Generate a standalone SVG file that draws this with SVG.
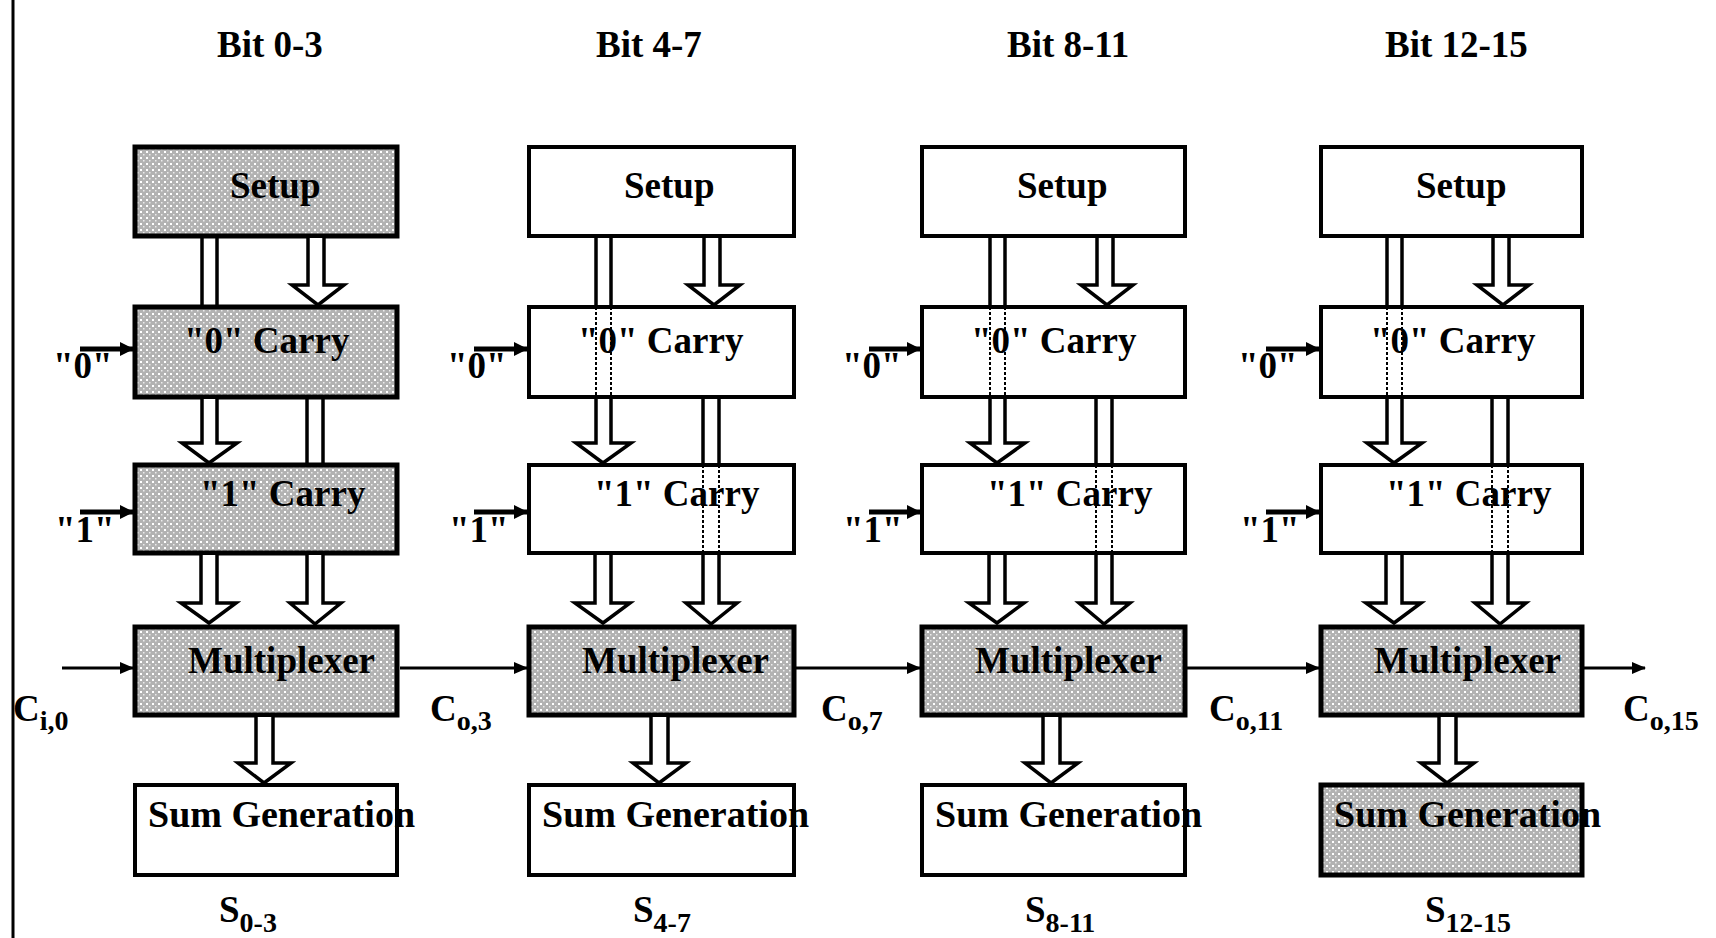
<svg xmlns="http://www.w3.org/2000/svg" width="1716" height="938" viewBox="0 0 1716 938">
<style>
text{font-family:"Liberation Serif","Times New Roman",serif;font-weight:bold;font-size:37px;fill:#000}
.sub{font-size:28px}
.sg{font-size:38px}
.box{stroke:#000;stroke-width:4;fill:#fff}
.sh{fill:url(#dots);stroke-width:5}
.blk{fill:#fff;stroke:#000;stroke-width:3.5;stroke-linejoin:miter}
.ln{stroke:#000;stroke-width:3.5;fill:none}
.dsh{stroke:#000;stroke-width:2;stroke-dasharray:3 2;fill:none}
.car{stroke:#000;stroke-width:3;fill:none;marker-end:url(#ah)}
.inp{stroke:#000;stroke-width:5;fill:none;marker-end:url(#ah2)}
</style>
<defs>
<pattern id="dots" width="6" height="6" patternUnits="userSpaceOnUse">
<rect width="6" height="6" fill="#b2b2b2"/>
<rect x="1" y="1" width="2" height="2" fill="#fff"/>
<rect x="4" y="4" width="1.5" height="1.5" fill="#ececec"/>
</pattern>
<marker id="ah" markerUnits="userSpaceOnUse" markerWidth="14" markerHeight="12" refX="13" refY="6" orient="auto">
<path d="M0,0 L14,6 L0,12 Z" fill="#000"/>
</marker>
<marker id="ah2" markerUnits="userSpaceOnUse" markerWidth="14" markerHeight="14" refX="13" refY="7" orient="auto">
<path d="M0,0 L14,7 L0,14 Z" fill="#000"/>
</marker>
</defs>
<rect width="1716" height="938" fill="#fff"/>
<line x1="13" y1="0" x2="13" y2="938" stroke="#000" stroke-width="3"/>

<g id="titles">
<text x="217" y="57">Bit 0-3</text>
<text x="596" y="57">Bit 4-7</text>
<text x="1007" y="57">Bit 8-11</text>
<text x="1385" y="57">Bit 12-15</text>
</g>

<!-- Column 1 -->
<g id="setup-0" transform="translate(133,0)"><rect class="box sh" x="2" y="147" width="262" height="89"/><text x="97" y="198">Setup</text></g>
<g id="carry0-0" transform="translate(133,0)"><rect class="box sh" x="2" y="307" width="262" height="90"/><text x="51" y="353">"0" Carry</text></g>
<g id="carry1-0" transform="translate(133,0)"><rect class="box sh" x="2" y="465" width="262" height="88"/><text x="67" y="506">"1" Carry</text></g>
<g id="mux-0" transform="translate(133,0)"><rect class="box sh" x="2" y="627" width="262" height="88"/><text x="55" y="673">Multiplexer</text></g>
<g id="sum-0" transform="translate(133,0)"><rect class="box" x="2" y="785" width="262" height="90"/><text class="sg" x="15" y="827">Sum Generation</text></g>

<!-- Column 2 -->
<g id="setup-1" transform="translate(527,0)"><rect class="box" x="2" y="147" width="265" height="89"/><text x="97" y="198">Setup</text></g>
<g id="carry0-1" transform="translate(527,0)"><rect class="box" x="2" y="307" width="265" height="90"/><text x="51" y="353">"0" Carry</text></g>
<g id="carry1-1" transform="translate(527,0)"><rect class="box" x="2" y="465" width="265" height="88"/><text x="67" y="506">"1" Carry</text></g>
<g id="mux-1" transform="translate(527,0)"><rect class="box sh" x="2" y="627" width="265" height="88"/><text x="55" y="673">Multiplexer</text></g>
<g id="sum-1" transform="translate(527,0)"><rect class="box" x="2" y="785" width="265" height="90"/><text class="sg" x="15" y="827">Sum Generation</text></g>

<!-- Column 3 -->
<g id="setup-2" transform="translate(920,0)"><rect class="box" x="2" y="147" width="263" height="89"/><text x="97" y="198">Setup</text></g>
<g id="carry0-2" transform="translate(920,0)"><rect class="box" x="2" y="307" width="263" height="90"/><text x="51" y="353">"0" Carry</text></g>
<g id="carry1-2" transform="translate(920,0)"><rect class="box" x="2" y="465" width="263" height="88"/><text x="67" y="506">"1" Carry</text></g>
<g id="mux-2" transform="translate(920,0)"><rect class="box sh" x="2" y="627" width="263" height="88"/><text x="55" y="673">Multiplexer</text></g>
<g id="sum-2" transform="translate(920,0)"><rect class="box" x="2" y="785" width="263" height="90"/><text class="sg" x="15" y="827">Sum Generation</text></g>

<!-- Column 4 -->
<g id="setup-3" transform="translate(1319,0)"><rect class="box" x="2" y="147" width="261" height="89"/><text x="97" y="198">Setup</text></g>
<g id="carry0-3" transform="translate(1319,0)"><rect class="box" x="2" y="307" width="261" height="90"/><text x="51" y="353">"0" Carry</text></g>
<g id="carry1-3" transform="translate(1319,0)"><rect class="box" x="2" y="465" width="261" height="88"/><text x="67" y="506">"1" Carry</text></g>
<g id="mux-3" transform="translate(1319,0)"><rect class="box sh" x="2" y="627" width="261" height="88"/><text x="55" y="673">Multiplexer</text></g>
<g id="sum-3" transform="translate(1319,0)"><rect class="box sh" x="2" y="785" width="261" height="90"/><text class="sg" x="15" y="827">Sum Generation</text></g>

<g id="connectors">
<g id="conn-col0" transform="translate(133,0)">
<line class="ln" x1="69" y1="238" x2="69" y2="305"/><line class="ln" x1="84" y1="238" x2="84" y2="305"/>
<polyline class="blk" points="69,399 69,443 49,443 76,463 104,443 84,443 84,399"/>
<polyline class="blk" points="175,238 175,285 159,285 185,305 211,285 191,285 191,238"/>
<line class="ln" x1="174" y1="399" x2="174" y2="463"/><line class="ln" x1="190" y1="399" x2="190" y2="463"/>
<polyline class="blk" points="174,555 174,603 157,603 182,624 208,603 190,603 190,555"/>
<polyline class="blk" points="68,555 68,603 48,603 76,623 103,603 84,603 84,555"/>
<polyline class="blk" points="123,717 123,763 105,763 131,783 158,763 140,763 140,717"/>
</g>
<g id="conn-col1" transform="translate(527,0)">
<line class="ln" x1="69" y1="238" x2="69" y2="305"/><line class="ln" x1="84" y1="238" x2="84" y2="305"/>
<line class="dsh" x1="69" y1="307" x2="69" y2="397"/><line class="dsh" x1="84" y1="307" x2="84" y2="397"/>
<polyline class="blk" points="69,399 69,443 49,443 76,463 104,443 84,443 84,399"/>
<polyline class="blk" points="177,238 177,285 161,285 187,305 213,285 193,285 193,238"/>
<line class="ln" x1="176" y1="399" x2="176" y2="463"/><line class="ln" x1="192" y1="399" x2="192" y2="463"/>
<line class="dsh" x1="176" y1="465" x2="176" y2="553"/><line class="dsh" x1="192" y1="465" x2="192" y2="553"/>
<polyline class="blk" points="176,555 176,603 159,603 184,624 210,603 192,603 192,555"/>
<polyline class="blk" points="68,555 68,603 48,603 76,623 103,603 84,603 84,555"/>
<polyline class="blk" points="124,717 124,763 106,763 132,783 159,763 141,763 141,717"/>
</g>
<g id="conn-col2" transform="translate(920,0)">
<line class="ln" x1="70" y1="238" x2="70" y2="305"/><line class="ln" x1="85" y1="238" x2="85" y2="305"/>
<line class="dsh" x1="70" y1="307" x2="70" y2="397"/><line class="dsh" x1="85" y1="307" x2="85" y2="397"/>
<polyline class="blk" points="70,399 70,443 50,443 77,463 105,443 85,443 85,399"/>
<polyline class="blk" points="177,238 177,285 161,285 187,305 213,285 193,285 193,238"/>
<line class="ln" x1="176" y1="399" x2="176" y2="463"/><line class="ln" x1="192" y1="399" x2="192" y2="463"/>
<line class="dsh" x1="176" y1="465" x2="176" y2="553"/><line class="dsh" x1="192" y1="465" x2="192" y2="553"/>
<polyline class="blk" points="176,555 176,603 159,603 184,624 210,603 192,603 192,555"/>
<polyline class="blk" points="69,555 69,603 49,603 77,623 104,603 85,603 85,555"/>
<polyline class="blk" points="123,717 123,763 105,763 131,783 158,763 140,763 140,717"/>
</g>
<g id="conn-col3" transform="translate(1319,0)">
<line class="ln" x1="68" y1="238" x2="68" y2="305"/><line class="ln" x1="83" y1="238" x2="83" y2="305"/>
<line class="dsh" x1="68" y1="307" x2="68" y2="397"/><line class="dsh" x1="83" y1="307" x2="83" y2="397"/>
<polyline class="blk" points="68,399 68,443 48,443 75,463 103,443 83,443 83,399"/>
<polyline class="blk" points="174,238 174,285 158,285 184,305 210,285 190,285 190,238"/>
<line class="ln" x1="173" y1="399" x2="173" y2="463"/><line class="ln" x1="189" y1="399" x2="189" y2="463"/>
<line class="dsh" x1="173" y1="465" x2="173" y2="553"/><line class="dsh" x1="189" y1="465" x2="189" y2="553"/>
<polyline class="blk" points="173,555 173,603 156,603 181,624 207,603 189,603 189,555"/>
<polyline class="blk" points="67,555 67,603 47,603 75,623 102,603 83,603 83,555"/>
<polyline class="blk" points="120,717 120,763 102,763 128,783 155,763 137,763 137,717"/>
</g>
<!-- carry chain -->
<line class="car" x1="62" y1="668" x2="133" y2="668"/>
<line class="car" x1="400" y1="668" x2="527" y2="668"/>
<line class="car" x1="796" y1="668" x2="920" y2="668"/>
<line class="car" x1="1186" y1="668" x2="1319" y2="668"/>
<line class="car" x1="1583" y1="668" x2="1645" y2="668"/>
<!-- constant inputs -->
<line class="inp" x1="80" y1="349" x2="133" y2="349"/>
<line class="inp" x1="80" y1="512" x2="133" y2="512"/>
<line class="inp" x1="474" y1="349" x2="527" y2="349"/>
<line class="inp" x1="474" y1="512" x2="527" y2="512"/>
<line class="inp" x1="869" y1="349" x2="920" y2="349"/>
<line class="inp" x1="869" y1="512" x2="920" y2="512"/>
<line class="inp" x1="1266" y1="349" x2="1319" y2="349"/>
<line class="inp" x1="1266" y1="512" x2="1319" y2="512"/>
</g>

<g id="labels">
<text x="53" y="378">"0"</text>
<text x="55" y="542">"1"</text>
<text x="447" y="378">"0"</text>
<text x="449" y="542">"1"</text>
<text x="842" y="378">"0"</text>
<text x="843" y="542">"1"</text>
<text x="1238" y="378">"0"</text>
<text x="1240" y="542">"1"</text>
<text x="13" y="721">C<tspan class="sub" dy="9">i,0</tspan></text>
<text x="430" y="721">C<tspan class="sub" dy="9">o,3</tspan></text>
<text x="821" y="721">C<tspan class="sub" dy="9">o,7</tspan></text>
<text x="1209" y="721">C<tspan class="sub" dy="9">o,11</tspan></text>
<text x="1623" y="721">C<tspan class="sub" dy="9">o,15</tspan></text>
<text x="219" y="922">S<tspan class="sub" dy="10">0-3</tspan></text>
<text x="633" y="922">S<tspan class="sub" dy="10">4-7</tspan></text>
<text x="1025" y="922">S<tspan class="sub" dy="10">8-11</tspan></text>
<text x="1425" y="922">S<tspan class="sub" dy="10">12-15</tspan></text>
</g>
</svg>
